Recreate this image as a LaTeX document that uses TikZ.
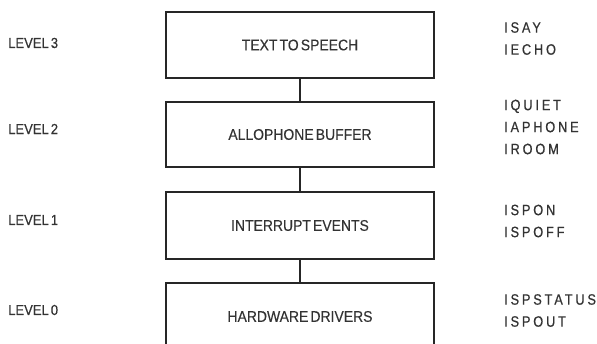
\documentclass[tikz,border=0pt]{standalone}
\usepackage{fontspec}
\setmainfont[FakeStretch=0.9,WordSpace=0.55,FakeBold=0.3]{Liberation Sans}
\newfontfamily\cmdfont[FakeStretch=0.85,LetterSpace=19,FakeBold=0.6]{Liberation Sans}
\usetikzlibrary{calc}

\begin{document}
\begin{tikzpicture}[x=1pt, y=-1pt,
    layer/.style = {draw=black!85, line width=1.2pt, minimum width=268pt, inner sep=0pt,
                    font=\fontsize{15.5}{17}\selectfont, text=black!80},
    lvl/.style = {anchor=west, inner sep=0pt, font=\fontsize{14.5}{16}\selectfont, text=black!80},
    cmd/.style = {anchor=west, inner sep=0pt, align=left, text=black!80,
                  font=\cmdfont\fontsize{15}{22}\selectfont}]
      \useasboundingbox (0,0) rectangle (597,344);
      \clip (0,0) rectangle (597,344);
      \node [layer, minimum height=66pt] (t2s) at (300, 45) {TEXT TO SPEECH};
      \node [layer, minimum height=65pt] (abuf) at (300, 134.5) {ALLOPHONE BUFFER};
      \node [layer, minimum height=67pt] (irq) at (300, 225.5) {INTERRUPT EVENTS};
      \node [layer, minimum height=67pt] (hw) at (300, 316.5) {HARDWARE DRIVERS};

      \node [lvl] (lvl3) at (8, 43) {LEVEL 3};
      \node [lvl] (lvl2) at (8, 129) {LEVEL 2};
      \node [lvl] (lvl1) at (8, 220) {LEVEL 1};
      \node [lvl] (lvl0) at (8, 310) {LEVEL 0};

      \node [cmd] (cmd3) at (504, 38.5) {ISAY\\IECHO};
      \node [cmd] (cmd2) at (504, 127) {IQUIET\\IAPHONE\\IROOM};
      \node [cmd] (cmd1) at (504, 221) {ISPON\\ISPOFF};
      \node [cmd] (cmd0) at (504, 310.5) {ISPSTATUS\\ISPOUT};

      \foreach \a/\b in {t2s/abuf, abuf/irq, irq/hw}
               {
                 \draw [black!85, line width=1.2pt] (\a.south) -- (\b.north);
               }
\end{tikzpicture}
\end{document}
